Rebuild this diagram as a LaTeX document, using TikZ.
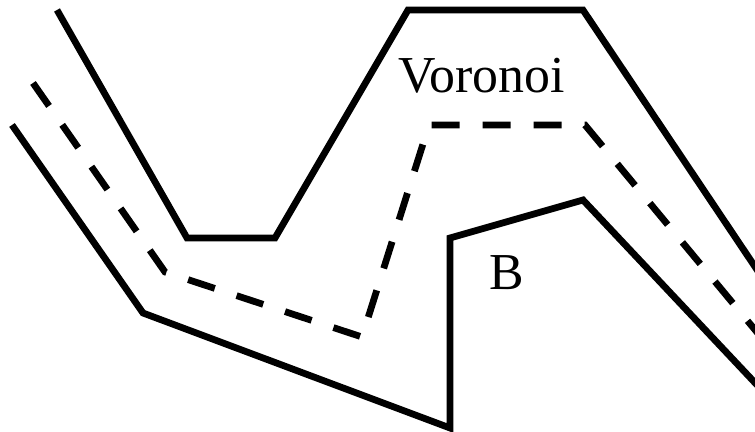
\documentclass[tikz,border=0pt]{standalone}
\usepackage{fontspec}
\setmainfont{Liberation Serif}
\usepackage{tikz}
\usetikzlibrary{positioning}

\begin{document}
\begin{tikzpicture}[x=0.02cm, y=-0.02cm]
    % 定义样式
    \tikzstyle{wall} = [line width=0.135cm, black]
    \tikzstyle{voro} = [line width=0.135cm, black, dash pattern=on 0.56cm off 0.46cm]
    \tikzstyle{lbl} = [font=\fontsize{29.5}{31}\selectfont, inner sep=0pt]

    \useasboundingbox (0,0) rectangle (755,432);
    \clip (0,0) rectangle (755,432);

    % 障碍物边界
    \draw [wall] (57,10) -- (187,238) -- (275,238) -- (408,10) -- (583,10) -- (790,319);
    \draw [wall] (12,125) -- (143,313) -- (450,428) -- (450,238) -- (583,200) -- (790,420);

    % Voronoi 路径
    \draw [voro] (33,83) -- (165,272) -- (362,337) -- (429,125) -- (585,125) -- (790,372);

    % 标签
    \node (voronoi) [lbl] at (482,76) {Voronoi};
    \node (b) [lbl] at (507,273) {B};
\end{tikzpicture}
\end{document}
